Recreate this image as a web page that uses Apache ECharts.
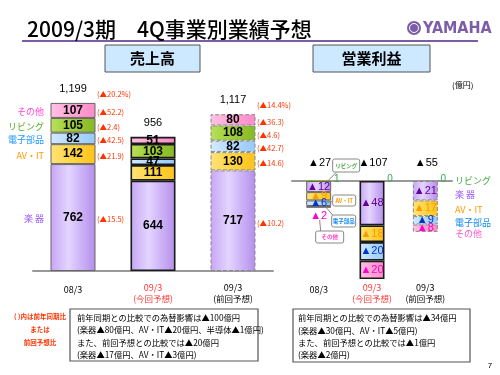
<!DOCTYPE html>
<html>
<head>
<meta charset="utf-8">
<script src="https://cdn.jsdelivr.net/npm/echarts@6/dist/echarts.min.js"></script>
<style>
  html, body { margin: 0; padding: 0; background: #fff; }
  #chart { width: 500px; height: 375px; }
</style>
</head>
<body>
<div id="chart"></div>
<script>
// カテゴリ
const categories = ['08/3', '09/3', '09/3']
const categoryNotes = ['', '(今回予想)', '(前回予想)']

// 売上高（億円）
const salesGakki = [762, 644, 717]
const salesAvit = [142, 111, 130]
const salesDenshi = [82, 47, 82]
const salesLiving = [105, 103, 108]
const salesOther = [107, 51, 80]
const salesTotals = [1199, 956, 1117]
const salesChangeYoY = ['(▲15.5)', '(▲21.9)', '(▲42.5)', '(▲2.4)', '(▲52.2)']
const salesChangePrev = ['(▲10.2)', '(▲14.6)', '(▲42.7)', '(▲4.6)', '(▲36.3)']
const salesTotalChange = ['(▲20.2%)', '', '(▲14.4%)']

// 営業利益（億円）
const profitGakki = [-12, -48, -21]
const profitAvit = [-9, -18, -17]
const profitDenshi = [-6, -20, -9]
const profitOther = [-2, -20, -8]
const profitLiving = [1, 0, 0]
const profitTotals = [-27, -107, -55]

const JP = '"Noto Sans CJK JP", sans-serif'

const fills = {
  '楽器': ['#c6a6f5', '#e4d4ff', '#b48eec'],
  'AV・IT': ['#ffe27a', '#ffd84a', '#ffc21a'],
  '電子部品': ['#d2eaff', '#b8dcff', '#96caf8'],
  'リビング': ['#b8e05a', '#a2d03c', '#86b825'],
  'その他': ['#ffc2e4', '#ffaad8', '#ff8ac8']
}
const profitLabelColors = {
  '楽器': '#660099',
  'AV・IT': '#ff9900',
  '電子部品': '#0033cc',
  'その他': '#ff00cc'
}
const edgeStyles = [
  { borderColor: '#666', borderWidth: 1, borderType: 'solid' },
  { borderColor: '#1a1a1a', borderWidth: 1.6, borderType: 'solid' },
  { borderColor: '#888', borderWidth: 1, borderType: 'dashed' }
]

function grad(c) {
  return new echarts.graphic.LinearGradient(0, 0, 1, 0, [
    { offset: 0, color: c[0] },
    { offset: 0.4, color: c[1] },
    { offset: 1, color: c[2] }
  ])
}

function salesSeries(name, values) {
  return {
    name: name,
    type: 'bar',
    stack: 'sales',
    xAxisIndex: 0,
    yAxisIndex: 0,
    barWidth: 45,
    itemStyle: { color: grad(fills[name]) },
    label: {
      show: true,
      position: 'inside',
      color: '#000',
      fontWeight: 'bold',
      fontSize: 12,
      fontFamily: 'Liberation Sans'
    },
    data: values.map((v, i) => ({ value: v, itemStyle: edgeStyles[i] }))
  }
}

function profitSeries(name, values) {
  return {
    name: name,
    type: 'bar',
    stack: 'profit',
    xAxisIndex: 1,
    yAxisIndex: 1,
    barWidth: 25,
    itemStyle: { color: grad(fills[name]) },
    label: {
      show: true,
      position: 'inside',
      color: profitLabelColors[name],
      fontSize: 11,
      fontFamily: 'Liberation Sans',
      formatter: p => '▲' + Math.abs(p.value)
    },
    data: values.map((v, i) => {
      const item = { value: v, itemStyle: edgeStyles[i] }
      // 小さすぎる区間はバーの下に表示
      if (Math.abs(v) < 4) item.label = { position: 'bottom', distance: 3 }
      return item
    })
  }
}

const axisBase = {
  type: 'category',
  data: categories,
  axisLine: { onZero: true, lineStyle: { color: '#999', width: 2 } },
  axisTick: { inside: true, length: 4, interval: 0, lineStyle: { color: '#999', width: 1.5 } },
  axisLabel: { show: false }
}

const option = {
  animation: false,
  grid: [
    { left: 33, top: 88.6, width: 240, height: 182.4 },
    { left: 292, top: 162.5, width: 160, height: 129.5 }
  ],
  xAxis: [
    Object.assign({ gridIndex: 0 }, axisBase),
    Object.assign({ gridIndex: 1 }, axisBase)
  ],
  yAxis: [
    { gridIndex: 0, type: 'value', min: 0, max: 1300, show: false },
    { gridIndex: 1, type: 'value', min: -120, max: 20, show: false }
  ],
  series: [
    salesSeries('楽器', salesGakki),
    salesSeries('AV・IT', salesAvit),
    salesSeries('電子部品', salesDenshi),
    salesSeries('リビング', salesLiving),
    salesSeries('その他', salesOther),
    profitSeries('楽器', profitGakki),
    profitSeries('AV・IT', profitAvit),
    profitSeries('電子部品', profitDenshi),
    profitSeries('その他', profitOther),
    {
      name: 'リビング',
      type: 'bar',
      stack: 'profit',
      xAxisIndex: 1,
      yAxisIndex: 1,
      barWidth: 25,
      itemStyle: { color: '#86b825' },
      data: profitLiving
    }
  ]
}

const chart = echarts.init(document.getElementById('chart'), null, { renderer: 'canvas' })
chart.setOption(option)

// ---- テキスト・注記 ----
const g = []
function pt(grid, i, v) {
  return chart.convertToPixel({ gridIndex: grid }, [i, v])
}
function txt(x, y, text, fill, font, align, vAlign) {
  g.push({
    type: 'text', x: x, y: y, silent: true, z: 100,
    style: { text: text, fill: fill, font: font, textAlign: align || 'center', textVerticalAlign: vAlign || 'middle' }
  })
}
function box(x, y, w, h, fill, stroke, lw, r) {
  g.push({
    type: 'rect', silent: true, z: 90,
    shape: { x: x, y: y, width: w, height: h, r: r || 0 },
    style: { fill: fill, stroke: stroke, lineWidth: lw || 1 }
  })
}
function line(points, stroke, lw) {
  g.push({
    type: 'polyline', silent: true, z: 95,
    shape: { points: points },
    style: { stroke: stroke, lineWidth: lw || 1, fill: null }
  })
}

// タイトル
txt(27, 29, '2009/3期　4Q事業別業績予想', '#000', '500 21px ' + JP, 'left')
line([[22, 41], [478, 41]], '#7a5ca8', 2)
// ロゴ
g.push({ type: 'circle', silent: true, z: 100, shape: { cx: 414, cy: 28, r: 7 }, style: { fill: '#7b5ea7' } })
g.push({ type: 'circle', silent: true, z: 101, shape: { cx: 414, cy: 28, r: 4.5 }, style: { fill: null, stroke: '#fff', lineWidth: 1 } })
line([[414, 22], [414, 34]], '#fff', 1)
line([[409, 25], [419, 31]], '#fff', 1)
line([[409, 31], [419, 25]], '#fff', 1)
txt(423, 28.5, 'YAMAHA', '#7b5ea7', 'bold 16px "Liberation Sans Narrow", "DejaVu Sans Condensed", sans-serif', 'left')

// 見出し
box(105, 45, 95, 27, '#cde9ff', '#555', 1)
txt(152.5, 58.5, '売上高', '#000', 'bold 15px ' + JP)
box(313, 45, 117, 27, '#cde9ff', '#555', 1)
txt(371.5, 58.5, '営業利益', '#000', 'bold 15px ' + JP)
txt(452, 85, '(億円)', '#000', '8px ' + JP, 'left')

// 売上高 ラベル
const salesStacks = [salesGakki, salesAvit, salesDenshi, salesLiving, salesOther]
const sideNames = ['楽 器', 'AV・IT', '電子部品', 'リビング', 'その他']
const sideColors = ['#9955ff', '#ff9900', '#2299ff', '#55aa22', '#ff44cc']
const redFont = '7.5px ' + JP
for (let i = 0; i < categories.length; i++) {
  let base = 0
  const cx = pt(0, i, 0)[0]
  salesStacks.forEach((arr, k) => {
    const mid = pt(0, i, base + arr[i] / 2)[1]
    if (i === 0) {
      txt(44, mid + 1, sideNames[k], sideColors[k], '9px ' + JP, 'right')
      txt(cx + 24, mid + 2, salesChangeYoY[k], '#ff3300', redFont, 'left')
    }
    if (i === 2) txt(cx + 24, mid + 2, salesChangePrev[k], '#ff3300', redFont, 'left')
    base += arr[i]
  })
  const top = pt(0, i, base)[1]
  txt(cx, top - 14, salesTotals[i].toLocaleString('en-US'), '#000', '11px "Liberation Sans"')
  if (salesTotalChange[i]) txt(cx + 24, top - 9, salesTotalChange[i], '#ff3300', redFont, 'left')
}

// カテゴリラベル
function catLabels(grid) {
  for (let i = 0; i < categories.length; i++) {
    const cx = pt(grid, i, 0)[0]
    const col = i === 1 ? '#ff3333' : '#000'
    if (categoryNotes[i]) {
      txt(cx, 288, categories[i], col, '9px ' + JP)
      txt(cx, 298.5, categoryNotes[i], col, '8.5px ' + JP)
    } else {
      txt(cx, 289.5, categories[i], col, '9px ' + JP)
    }
  }
}
catLabels(0)
catLabels(1)

// 営業利益 ラベル
for (let i = 0; i < categories.length; i++) {
  const p0 = pt(1, i, 0)
  txt(p0[0] + 1, 163, '▲' + Math.abs(profitTotals[i]), '#000', '11px "Liberation Sans"')
  txt(p0[0] + 18, p0[1] - 1.5, String(profitLiving[i]), '#33aa55', '10px "Liberation Sans"')
}
const rightNames = ['リビング', '楽 器', 'AV・IT', '電子部品', 'その他']
const rightColors = ['#44aa44', '#9955ff', '#ff9900', '#1188ee', '#ff55cc']
const rightY = [181, 195, 210, 223, 234]
rightNames.forEach((n, k) => txt(455, rightY[k], n, rightColors[k], '9px ' + JP, 'left'))

// 吹き出し（08/3）
const c0 = pt(1, 0, 0)
function callout(x, y, w, h, label, color, from, to) {
  line([from, to], '#888', 1)
  box(x, y, w, h, '#fff', '#888', 1, 2)
  txt(x + w / 2, y + h / 2, label, color, 'bold 5.5px ' + JP)
}
callout(c0[0] + 14, c0[1] - 22, 27, 13, 'リビング', '#44aa44', [c0[0] + 18, c0[1] - 9], [c0[0] + 10, c0[1] - 1])
callout(c0[0] + 14, c0[1] + 14, 23, 11, 'AV・IT', '#ff9900', [c0[0] + 14, c0[1] + 20], [c0[0] + 8, c0[1] + 22])
callout(c0[0] + 13, c0[1] + 34, 24, 12, '電子部品', '#1188ee', [c0[0] + 14, c0[1] + 34], [c0[0] + 7, c0[1] + 26])
callout(c0[0] - 3, c0[1] + 50, 28, 12, 'その他', '#ff44cc', [c0[0] + 2, c0[1] + 50], [c0[0] + 1, c0[1] + 39])

// 注記
txt(40, 317, '( )内は前年同期比', '#ff3300', 'bold 6.5px ' + JP)
txt(40, 330, 'または', '#ff3300', 'bold 6.5px ' + JP)
txt(40, 343, '前回予想比', '#ff3300', 'bold 6.5px ' + JP)

const noteFont = '8.3px ' + JP
const noteLeft = [
  '前年同期との比較での為替影響は▲100億円',
  '(楽器▲80億円、AV・IT▲20億円、半導体▲1億円)',
  'また、前回予想との比較では▲20億円',
  '(楽器▲17億円、AV・IT▲3億円)'
]
const noteRight = [
  '前年同期との比較での為替影響は▲34億円',
  '(楽器▲30億円、AV・IT▲5億円)',
  'また、前回予想との比較では▲1億円',
  '(楽器▲2億円)'
]
const noteY = [317.5, 330, 342.5, 354.5]
box(70, 309, 188, 52, '#fff', '#555', 1.2)
box(293, 309, 177, 53, '#fff', '#555', 1.2)
noteLeft.forEach((t, k) => txt(77, noteY[k], t, '#000', noteFont, 'left'))
noteRight.forEach((t, k) => txt(298, noteY[k] + 0.5, t, '#000', noteFont, 'left'))
txt(490, 366, '7', '#000', '8px "Liberation Sans"')

chart.setOption({ graphic: g })
</script>
</body>
</html>
